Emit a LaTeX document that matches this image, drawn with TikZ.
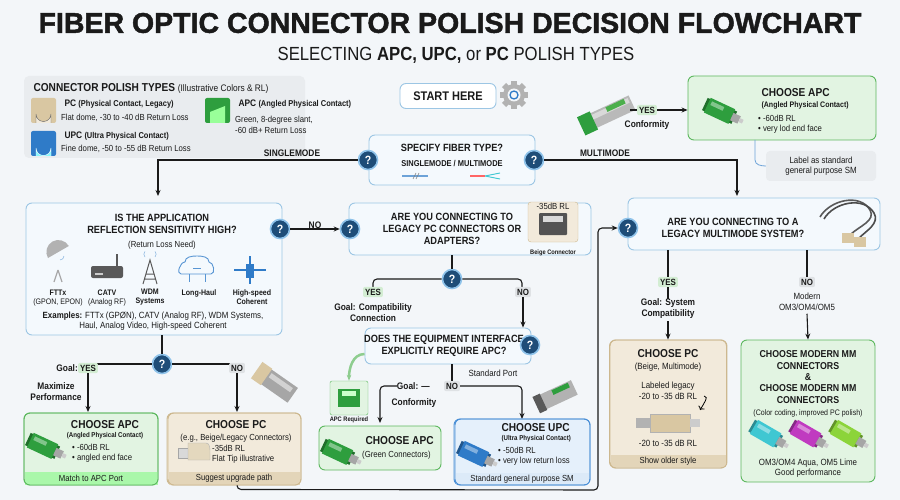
\documentclass[tikz,border=0pt]{standalone}
\usepackage{fontspec}
\setmainfont{Liberation Sans}[FakeStretch=0.88]
\newfontfamily\tfont{Liberation Sans}[FakeBold=1.6]
\usetikzlibrary{arrows.meta,shapes.geometric,shadows}
\definecolor{bgc}{HTML}{F3F6F9}
\definecolor{boxb}{HTML}{9CC6E4}
\definecolor{boxf}{HTML}{F4F9FD}
\definecolor{qblue}{HTML}{1E4D78}
\definecolor{qglow}{HTML}{8FC3EA}
\definecolor{grnf}{HTML}{E2F4E2}
\definecolor{grnb}{HTML}{5DB85F}
\definecolor{grnd}{HTML}{2E9E3E}
\definecolor{beif}{HTML}{F2EADB}
\definecolor{beib}{HTML}{CDB88F}
\definecolor{beid}{HTML}{D9C7A2}
\definecolor{upcf}{HTML}{E5F0FB}
\definecolor{upcb}{HTML}{4A8FD6}
\definecolor{upcd}{HTML}{2F7BC8}
\definecolor{yesf}{HTML}{D3EDD3}
\definecolor{nof}{HTML}{DFE2E5}
\definecolor{legf}{HTML}{E9ECEF}
\definecolor{txt}{HTML}{1A1A1A}
\definecolor{aqua}{HTML}{3FC7D2}
\definecolor{mag}{HTML}{C03BC0}
\definecolor{lime}{HTML}{8CD43A}
\tikzset{
 qbox/.style={draw=boxb,fill=boxf,rounded corners=6pt,line width=0.9pt},
 gbox/.style={draw=grnb,fill=grnf,rounded corners=6pt,line width=0.9pt},
 bbox/.style={draw=beib,fill=beif,rounded corners=6pt,line width=0.9pt},
 ubox/.style={draw=upcb,fill=upcf,rounded corners=6pt,line width=0.9pt},
 q/.style={circle,fill=qblue,draw=qglow,line width=1.6pt,minimum size=19pt,inner sep=0pt,text=white,font=\bfseries\large},
 arr/.style={-{Stealth[length=6pt,width=5pt]},line width=1.1pt,draw=txt},
 ln/.style={line width=1.1pt,draw=txt},
 yes/.style={fill=yesf,rounded corners=2pt,inner sep=2pt,font=\bfseries\small,text=txt},
 no/.style={fill=nof,rounded corners=2pt,inner sep=2pt,font=\bfseries\small,text=txt},
 h/.style={font=\bfseries\fontsize{10.5}{12}\selectfont,text=txt,align=center,inner sep=0pt},
 s/.style={font=\fontsize{8.8}{10.3}\selectfont,text=txt,align=center,inner sep=0pt},
 sb/.style={font=\bfseries\fontsize{8.5}{10}\selectfont,text=txt,align=center,inner sep=0pt},
 lab/.style={font=\bfseries\fontsize{9.5}{11}\selectfont,text=txt,align=center,inner sep=0pt},
}
\newcommand{\conn}[3]{% position, color, angle
 \begin{scope}[shift={#1},rotate=#3,scale=1.35]
  \fill[#2!70!black] (-14,-5) rectangle (10,5);
  \fill[#2] (-12,-6) rectangle (8,6);
  \fill[#2!60!white] (-10,-4) rectangle (0,-1);
  \fill[gray!70] (8,-3) rectangle (14,3);
  \fill[gray!40] (14,-1.5) rectangle (17,1.5);
 \end{scope}}
\begin{document}
\begin{tikzpicture}[x=1pt,y=-1pt]
\fill[bgc] (0,0) rectangle (900,500);
\useasboundingbox (0,0) rectangle (900,500);
% title
\node[font=\tfont\bfseries\fontsize{28.5}{30}\selectfont,text=txt] (title) at (450,23) {FIBER OPTIC CONNECTOR POLISH DECISION FLOWCHART};
\node[font=\fontsize{19}{21}\selectfont,text=txt] (sub) at (456,55) {SELECTING \textbf{APC, UPC,} or \textbf{PC} POLISH TYPES};
% legend
\fill[legf,rounded corners=5pt] (24,76) rectangle (305,158);
\node[anchor=west,font=\bfseries\fontsize{11.5}{13}\selectfont,text=txt] (legt) at (30,88) {CONNECTOR POLISH TYPES \mdseries\fontsize{9.5}{10}\selectfont(Illustrative Colors \& RL)};
\fill[beid,rounded corners=2pt] (31,98) rectangle (56,123);
\draw[txt!70,fill=beif] (36,123) -- (36,114) arc (180:0:7.5) -- (51,123);
\fill[upcd,rounded corners=2pt] (31,131) rectangle (56,156);
\draw[white,fill=upcf!60!cyan] (36,156) -- (36,148) arc (180:0:7.5) -- (51,156);
\fill[grnd,rounded corners=2pt] (205,98) rectangle (230,123);
\fill[green!40!white] (210,123) -- (210,112) -- (225,106) -- (225,123) -- cycle;
\node[anchor=west,font=\bfseries\fontsize{9.5}{11}\selectfont,text=txt] (lpc) at (61,104) {PC \fontsize{8.5}{10}\selectfont(Physical Contact, Legacy)};
\node[anchor=west,s] (lpc2) at (61,118) {Flat dome, -30 to -40 dB Return Loss};
\node[anchor=west,font=\bfseries\fontsize{9.5}{11}\selectfont,text=txt] (lupc) at (61,136) {UPC \fontsize{8.5}{10}\selectfont(Ultra Physical Contact)};
\node[anchor=west,s] (lupc2) at (61,149) {Fine dome, -50 to -55 dB Return Loss};
\node[anchor=west,font=\bfseries\fontsize{9.5}{11}\selectfont,text=txt] (lapc) at (235,104) {APC \fontsize{8.5}{10}\selectfont(Angled Physical Contact)};
\node[anchor=west,s,align=left] (lapc2) at (235,125) {Green, 8-degree slant,\\-60 dB+ Return Loss};
% start
\node[draw=boxb,fill=white,rounded corners=6pt,line width=0.9pt,minimum width=96pt,minimum height=25pt,font=\bfseries\fontsize{12.5}{14}\selectfont,text=txt] (start) at (448,96) {START HERE};
\begin{scope}[shift={(514,95)}]
 \fill[gray!60] (0,0) circle (11);
 \foreach \a in {0,45,...,315} \fill[gray!60,rotate=\a] (-3,9) rectangle (3,14);
 \fill[bgc] (0,0) circle (6.5);
 \draw[upcd,line width=1.3pt] (0,0) circle (4);
\end{scope}
% specify
\node[qbox,minimum width=166pt,minimum height=50pt] (spec) at (452,160) {};
\node[h] (spect) at (452,148) {SPECIFY FIBER TYPE?};
\node[sb] (spect2) at (452,164) {SINGLEMODE / MULTIMODE};
\draw[upcd!70,line width=1.3pt] (402,176) -- (428,176);
\draw[gray,line width=0.6pt] (413,179) -- (416,173) (416,179) -- (419,173);
\draw[red!60,line width=1.3pt] (470,176) -- (485,176);
\draw[aqua,line width=0.9pt] (485,176) -- (500,173) (485,176) -- (500,179);
\node[q] (q1) at (368,160) {?};
\node[q] (q2) at (534,160) {?};
\coordinate (sm) at (158,196);
\draw[arr] (q1.west) -| (sm);
\node[lab] (smlab) at (292,153) {SINGLEMODE};
\coordinate (mm) at (737,196);
\draw[arr] (q2.east) -- (737,160) -- (mm);
\node[lab] (mmlab) at (605,153) {MULTIMODE};
% SFP icon top
\begin{scope}[shift={(612,112)},rotate=25]
 \fill[gray!55] (-22,-8) rectangle (22,8);
 \fill[gray!30] (-20,-6) rectangle (20,-1);
 \fill[green!55!black!70] (-4,-7) rectangle (16,-2);
 \fill[grnd] (-34,-10) rectangle (-20,10);
\end{scope}
% top right APC
\node[gbox,minimum width=188pt,minimum height=64pt] (apc1) at (782,108) {};
\conn{(722,112)}{grnd}{-25}
\node[anchor=west,font=\bfseries\fontsize{11.5}{13}\selectfont,text=txt] (apc1t) at (758,93) {CHOOSE APC};
\node[anchor=west,font=\bfseries\fontsize{8}{9}\selectfont,text=txt] (apc1s) at (758,105) {(Angled Physical Contact)};
\node[anchor=west,s,align=left] (apc1b) at (758,124) {• -60dB RL\\• very lod end face};
\draw[arr] (612,108) ++(18,2) coordinate (sfpR) (sfpR) -- (apc1.west |- sfpR);
\node[yes] (yes0) at (647,110) {YES};
\node[lab] (conf0) at (647,125) {Conformity};
\node[fill=legf,rounded corners=4pt,minimum width=110pt,minimum height=30pt,s,font=\fontsize{9}{10.5}\selectfont,align=center] (lbl) at (821,166) {Label as standard\\general purpose SM};
\draw[upcd!70,line width=0.8pt] (755,140) -- (755,160) to[out=-90,in=180] (lbl.west);
% left big box
\node[qbox,minimum width=256pt,minimum height=132pt] (app) at (154,269) {};
\node[h] (appt) at (162,224) {IS THE APPLICATION\\REFLECTION SENSITIVITY HIGH?};
\node[s] (appt2) at (162,245) {(Return Loss Need)};
% icons
\begin{scope}[shift={(58,270)}]
 \fill[gray!60] (-10,-12) arc (150:330:12) -- cycle; \draw[gray!70,line width=1.2pt] (0,0) -- (-4,12) (0,0) -- (4,12); \draw[upcd!70] (6,-14) arc (0:90:4);
\end{scope}
\begin{scope}[shift={(107,272)}]
 \fill[gray!70!black,rounded corners=2pt] (-16,-6) rectangle (16,6); \draw[gray!70!black,line width=1.4pt] (10,-6) -- (10,-18); \fill[gray!40] (-12,1) rectangle (-4,3);
\end{scope}
\begin{scope}[shift={(150,270)}]
 \draw[gray!70!black,line width=1pt] (-7,14) -- (0,-10) -- (7,14) (-4,4) -- (4,4) (-5,9) -- (5,9); \draw[upcd!70] (-5,-13) arc (135:225:4) (5,-13) arc (45:-45:4);
\end{scope}
\begin{scope}[shift={(197,268)}]
 \draw[upcd!80,fill=boxf,line width=0.9pt] (-16,6) to[out=180,in=180] (-12,-6) to[out=90,in=180] (0,-12) to[out=0,in=90] (12,-6) to[out=0,in=0] (14,6) -- cycle;
 \draw[upcd!80] (-8,6) -- (-8,14) (8,6) -- (8,14) (-4,0) -- (4,0);
\end{scope}
\begin{scope}[shift={(250,270)}]
 \draw[upcd,line width=1.5pt] (-16,0) -- (16,0) (0,-14) -- (0,14); \fill[upcd] (-4,-6) rectangle (4,8);
\end{scope}
\node[sb,font=\bfseries\fontsize{8}{9}\selectfont] (i1) at (58,293) {FTTx};
\node[s,font=\fontsize{8}{9}\selectfont] (i1b) at (58,302) {(GPON, EPON)};
\node[sb,font=\bfseries\fontsize{8}{9}\selectfont] (i2) at (107,293) {CATV};
\node[s,font=\fontsize{8}{9}\selectfont] (i2b) at (107,302) {(Analog RF)};
\node[sb,font=\bfseries\fontsize{8}{9}\selectfont] (i3) at (150,297) {WDM\\Systems};
\node[sb,font=\bfseries\fontsize{8}{9}\selectfont] (i4) at (199,293) {Long-Haul};
\node[sb,font=\bfseries\fontsize{8}{9}\selectfont] (i5) at (252,297) {High-speed\\Coherent};
\node[s,font=\fontsize{9}{10.5}\selectfont] (ex) at (153,321) {\textbf{Examples:} FTTx (GPØN), CATV (Analog RF), WDM Systems,\\Haul, Analog Video, High-speed Coherent};
\node[q] (q3) at (280,229) {?};
% middle box
\node[qbox,minimum width=242pt,minimum height=52pt] (leg) at (470,229) {};
\node[h] (legt) at (452,229) {ARE YOU CONNECTING TO\\LEGACY PC CONNECTORS OR\\ADAPTERS?};
\node[fill=beif,draw=beib,rounded corners=3pt,minimum width=50pt,minimum height=40pt] (beige) at (553,222) {};
\node[s] (beigel) at (553,206) {-35dB RL};
\fill[gray!65!black,rounded corners=1pt] (539,213) rectangle (567,235);
\fill[gray!30] (543,216) rectangle (563,222);
\node[s,font=\bfseries\fontsize{6.5}{7}\selectfont] (beigec) at (553,253) {Beige Connector};
\node[q] (q4) at (350,229) {?};
\draw[arr] (q3) -- (q4) node[midway,above,lab] {NO};
% right legacy MM box
\node[qbox,minimum width=252pt,minimum height=52pt] (mmq) at (754,224) {};
\node[h] (mmqt) at (733,228) {ARE YOU CONNECTING TO A\\LEGACY MULTIMODE SYSTEM?};
\begin{scope}[shift={(850,225)}]
 \draw[gray!70!black,line width=1.6pt] (-30,-8) to[out=60,in=120] (20,-15) to[out=-60,in=45] (0,10);
 \draw[gray!60!black,line width=1.6pt] (-26,-6) to[out=60,in=120] (24,-12) to[out=-60,in=45] (8,14);
 \fill[beid] (-8,8) rectangle (4,18); \fill[beid] (4,12) rectangle (16,22);
\end{scope}
\node[q] (q5) at (628,228) {?};
% left branch
\node[q] (q6) at (162,364) {?};
\draw[ln] (app.south -| q6) -- (q6);
\coordinate (yl) at (88,364); \coordinate (nl) at (237,364);
\draw[ln] (q6) -- (yl); \draw[ln] (q6) -- (nl);
\node[yes] (yes1) at (88,368) {YES};
\node[no] (no1) at (237,368) {NO};
\node[lab,anchor=east] (g1) at (78,368) {Goal:};
\node[lab] (g1b) at (56,392) {Maximize\\Performance};
\coordinate (apc2top) at (88,412); \coordinate (pc1top) at (237,412);
\draw[arr] (yes1) -- (apc2top);
\draw[arr] (no1) -- (pc1top);
\begin{scope}[shift={(278,385)},rotate=-35]
 \fill[gray!70] (-18,-9) rectangle (18,9); \fill[beid] (-26,-10) rectangle (-14,10); \fill[gray!35] (-12,-6) rectangle (14,-1);
\end{scope}
% left APC
\node[gbox,minimum width=134pt,minimum height=72pt] (apc2) at (91,449) {};
\fill[green!25!grnf] (25,472) rectangle (158,485);
\draw[grnb,line width=0.9pt,rounded corners=6pt] (24,413) rectangle (158,485);
\conn{(45,447)}{grnd}{-25}
\node[font=\bfseries\fontsize{11.5}{13}\selectfont,text=txt] (apc2t) at (105,425) {CHOOSE APC};
\node[font=\bfseries\fontsize{7}{8}\selectfont,text=txt] (apc2s) at (105,436) {(Angled Physical Contact)};
\node[s,align=left,anchor=west] (apc2b) at (72,453) {• -60dB RL\\• angled end face};
\node[s] (apc2f) at (91,478) {Match to APC Port};
% left PC
\node[bbox,minimum width=134pt,minimum height=72pt] (pc1) at (234,449) {};
\fill[beid!60!beif] (169,472) rectangle (300,485);
\draw[beib,line width=0.9pt,rounded corners=6pt] (168,413) rectangle (301,485);
\node[font=\bfseries\fontsize{11.5}{13}\selectfont,text=txt] (pc1t) at (236,425) {CHOOSE PC};
\node[s] (pc1s) at (236,438) {(e.g., Beige/Legacy Connectors)};
\fill[gray!30,draw=gray!70] (178,448) rectangle (188,458);
\fill[beid!70,draw=gray!60] (188,443) -- (206,443) to[out=0,in=90] (210,453) -- (210,460) -- (188,460) -- cycle;
\node[s,align=left,anchor=west] (pc1b) at (212,454) {-35dB RL\\Flat Tip illustrative};
\node[s] (pc1f) at (234,478) {Suggest upgrade path};
% middle branch
\node[q] (q7) at (452,279) {?};
\draw[ln] (leg.south -| q7) -- (q7);
\draw[ln,rounded corners=4pt] (q7) -- (373,279) -- (373,290);
\draw[ln,rounded corners=4pt] (q7) -- (522,279) -- (522,290);
\node[yes] (yes2) at (373,292) {YES};
\node[no] (no2) at (523,292) {NO};
\node[lab] (g2) at (373,313) {Goal: Compatibility\\Connection};
\node[qbox,minimum width=166pt,minimum height=36pt] (eq) at (448,346) {};
\node[h] (eqt) at (444,346) {DOES THE EQUIPMENT INTERFACE\\EXPLICITLY REQUIRE APC?};
\draw[arr] (no2) -- (no2 |- eq.north);
\node[q] (q8) at (530,345) {?};
% APC required icon
\node[fill=grnf,draw=grnb,rounded corners=2pt,minimum width=38pt,minimum height=34pt] (apcreq) at (349,398) {};
\fill[grnd] (338,389) rectangle (360,407); \fill[green!20] (342,391) rectangle (356,396);
\node[s,font=\bfseries\fontsize{6.5}{7}\selectfont] (apcreql) at (349,420) {APC Required};
\draw[-{Stealth[length=6pt]},grnb!70,line width=2.5pt] (eq.west) ++(0,8) to[out=180,in=90] (apcreq.north);
% branch no
\node[no] (no3) at (452,386) {NO};
\draw[ln] (eq.south -| no3) -- (no3);
\node[s,font=\fontsize{9}{10}\selectfont] (stdp) at (493,373) {Standard Port};
\node[lab,anchor=east] (g3) at (430,386) {Goal: —};
\node[lab] (g3b) at (414,403) {Conformity};
\coordinate (apc3top) at (380,423); \coordinate (upctop) at (522,419);
\draw[arr,rounded corners=4pt] (g3.west) -| (apc3top);
\draw[arr,rounded corners=4pt] (no3.east) -| (upctop);
\begin{scope}[shift={(558,395)},rotate=25]
 \fill[gray!60] (-18,-8) rectangle (18,8); \fill[gray!70!black] (-24,-9) rectangle (-16,9); \fill[grnd] (-4,-7) rectangle (14,-2);
\end{scope}
% APC 3
\node[gbox,minimum width=122pt,minimum height=44pt] (apc3) at (380,448) {};
\conn{(340,453)}{grnd}{-25}
\node[anchor=west,font=\bfseries\fontsize{11.5}{13}\selectfont,text=txt] (apc3t) at (362,441) {CHOOSE APC};
\node[anchor=west,s] (apc3s) at (362,455) {(Green Connectors)};
% UPC
\node[ubox,minimum width=136pt,minimum height=66pt] (upc) at (522,452) {};
\fill[upcf!60!upcb!40] (456,473) rectangle (589,484);
\draw[upcb,line width=0.9pt,rounded corners=6pt] (455,419) rectangle (590,485);
\conn{(476,455)}{upcd}{-25}
\node[anchor=west,font=\bfseries\fontsize{11.5}{13}\selectfont,text=txt] (upct) at (498,428) {CHOOSE UPC};
\node[anchor=west,font=\bfseries\fontsize{7}{8}\selectfont,text=txt] (upcs) at (498,439) {(Ultra Physical Contact)};
\node[anchor=west,s,align=left] (upcb) at (498,456) {• -50dB RL\\• very low return loss};
\node[s] (upcf) at (522,479) {Standard general purpose SM};
% bottom connector
\draw[arr,rounded corners=4pt] (pc1.south) ++(3,0) -- ++(0,4) -- (598,490) -- (598,228) -- (q5.west);
% right branch
\coordinate (ry) at (668,250); \coordinate (rn) at (807,250);
\node[yes] (yes4) at (668,282) {YES};
\node[no] (no4) at (807,282) {NO};
\draw[ln] (ry) -- (yes4);
\draw[ln] (rn) -- (no4);
\node[lab] (g4) at (668,309) {Goal: System\\Compatibility};
\node[s,font=\fontsize{9}{10.5}\selectfont] (g5) at (807,302) {Modern\\OM3/OM4/OM5};
\node[bbox,minimum width=117pt,minimum height=128pt] (pc2) at (668,404) {};
\fill[beid!60!beif] (611,455) rectangle (726,467);
\draw[beib,line width=0.9pt,rounded corners=6pt] (610,340) rectangle (727,468);
\node[gbox,minimum width=134pt,minimum height=142pt] (mmc) at (808,411) {};
\draw[ln] (g4.south) ++(0,2) coordinate (g4s) (yes4) -- (g4.north);
\draw[arr] (g4s) -- (pc2.north);
\draw[arr] (g5.south) ++(0,3) coordinate (g5s) (g5s) -- (mmc.north);
\node[font=\bfseries\fontsize{11.5}{13}\selectfont,text=txt] (pc2t) at (668,354) {CHOOSE PC};
\node[s,font=\fontsize{9}{10.5}\selectfont] (pc2s) at (668,367) {(Beige, Multimode)};
\node[s,font=\fontsize{9}{10.5}\selectfont] (pc2b) at (668,391) {Labeled legacy\\-20 to -35 dB RL};
\draw[->,line width=0.8pt] (704,396) to[out=0,in=60] (700,410);
\fill[gray!60] (636,418) rectangle (650,428); \fill[beid,draw=gray!60] (650,414) rectangle (690,432); \fill[gray!40] (690,419) rectangle (700,427);
\node[s,font=\fontsize{9}{10.5}\selectfont] (pc2c) at (668,443) {-20 to -35 dB RL};
\node[s] (pc2f) at (668,461) {Show older style};
\node[font=\bfseries\fontsize{10}{11.3}\selectfont,text=txt,align=center] (mmct) at (808,377) {CHOOSE MODERN MM\\CONNECTORS\\\&\\CHOOSE MODERN MM\\CONNECTORS};
\node[s,font=\fontsize{8}{9}\selectfont] (mmcs) at (808,413) {(Color coding, improved PC polish)};
\conn{(768,435)}{aqua}{-30}
\conn{(808,435)}{mag}{-30}
\conn{(848,435)}{lime}{-30}
\node[s,font=\fontsize{9}{10.5}\selectfont] (mmcf) at (808,468) {OM3/OM4 Aqua, OM5 Lime\\Good performance};
\end{tikzpicture}
\end{document}
